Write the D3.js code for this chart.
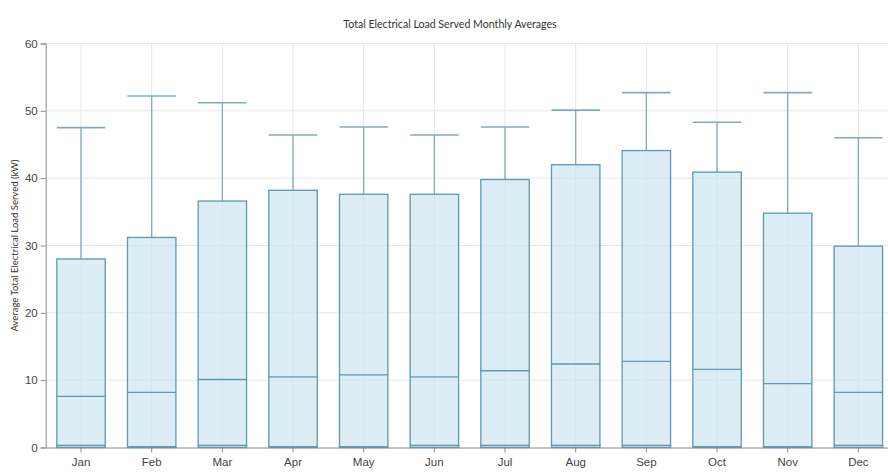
<!DOCTYPE html>
<html>
<head>
<meta charset="utf-8">
<script src="https://cdn.jsdelivr.net/npm/d3@7"></script>
<style>
  html, body { margin: 0; padding: 0; background: #fff; }
  svg { display: block; font-family: Lato, "Open Sans", "Noto Sans", sans-serif; }
</style>
</head>
<body>
<svg id="chart" width="888" height="473"></svg>
<script>
// Monthly distribution of total electrical load served (kW)
const months   = ["Jan","Feb","Mar","Apr","May","Jun","Jul","Aug","Sep","Oct","Nov","Dec"];
const minVals  = [0, 0, 0, 0, 0, 0, 0, 0, 0, 0, 0, 0];
const q1Vals   = [0.3, 0.1, 0.3, 0.1, 0.1, 0.3, 0.3, 0.3, 0.3, 0.1, 0.1, 0.3];
const medVals  = [7.6, 8.2, 10.1, 10.5, 10.8, 10.5, 11.4, 12.4, 12.8, 11.6, 9.5, 8.2];
const q3Vals   = [28.0, 31.2, 36.6, 38.2, 37.6, 37.6, 39.8, 42.0, 44.1, 40.9, 34.8, 29.9];
const maxVals  = [47.5, 52.2, 51.2, 46.4, 47.6, 46.4, 47.6, 50.1, 52.7, 48.3, 52.7, 46.0];
const yTicks   = [0, 10, 20, 30, 40, 50, 60];

const title = "Total Electrical Load Served Monthly Averages";
const yLabel = "Average Total Electrical Load Served (kW)";

const rows = months.map((m, i) => ({
  month: m, min: minVals[i], q1: q1Vals[i], med: medVals[i], q3: q3Vals[i], max: maxVals[i]
}));

const svg = d3.select("#chart");
const margin = { left: 45.7, top: 43.5, bottom: 25.5 };
const plotRight = 893.7;
const H = 473;

const x = d3.scaleBand().domain(months).range([margin.left, plotRight]).paddingInner(0).paddingOuter(0);
const y = d3.scaleLinear().domain([0, 60]).range([H - margin.bottom, margin.top]);

const boxW = x.bandwidth() * 0.685;
const stroke = "#5d99b1";
const whisker = "#7fabbb";
const grid = "#e6e6e6";

// grid lines
svg.append("g").selectAll("line.h").data(yTicks.filter(t => t > 0)).join("line")
  .attr("x1", margin.left).attr("x2", plotRight)
  .attr("y1", d => y(d)).attr("y2", d => y(d))
  .attr("stroke", grid).attr("stroke-width", 1);
svg.append("g").selectAll("line.v").data(months).join("line")
  .attr("x1", d => x(d) + x.bandwidth() / 2).attr("x2", d => x(d) + x.bandwidth() / 2)
  .attr("y1", y(60)).attr("y2", y(0))
  .attr("stroke", grid).attr("stroke-width", 1);

// boxes and whiskers
const g = svg.append("g").selectAll("g.box").data(rows).join("g");
const cx = d => x(d.month) + x.bandwidth() / 2;

g.append("line")
  .attr("x1", cx).attr("x2", cx)
  .attr("y1", d => y(d.max)).attr("y2", d => y(d.q3))
  .attr("stroke", whisker).attr("stroke-width", 1.3);
g.append("line")
  .attr("x1", d => cx(d) - boxW / 2).attr("x2", d => cx(d) + boxW / 2)
  .attr("y1", d => y(d.max)).attr("y2", d => y(d.max))
  .attr("stroke", whisker).attr("stroke-width", 1.6);
g.append("rect")
  .attr("x", d => cx(d) - boxW / 2).attr("width", boxW)
  .attr("y", d => y(d.q3)).attr("height", d => y(d.q1) - y(d.q3))
  .attr("fill", "#cfe5f2").attr("fill-opacity", 0.7)
  .attr("stroke", stroke).attr("stroke-width", 1.3);
// lower band from min to q1
g.append("rect")
  .attr("x", d => cx(d) - boxW / 2).attr("width", boxW)
  .attr("y", d => y(d.q1)).attr("height", d => y(d.min) - y(d.q1))
  .attr("fill", "#cfe5f2").attr("fill-opacity", 0.7)
  .attr("stroke", stroke).attr("stroke-width", 1.3);
g.append("line")
  .attr("x1", d => cx(d) - boxW / 2).attr("x2", d => cx(d) + boxW / 2)
  .attr("y1", d => y(d.med)).attr("y2", d => y(d.med))
  .attr("stroke", stroke).attr("stroke-width", 1.3);

// axes
const yAxis = d3.axisLeft(y).tickValues(yTicks).tickSize(5).tickPadding(3);
const yg = svg.append("g").attr("transform", `translate(${margin.left},0)`).call(yAxis);
yg.select(".domain").attr("stroke", "#8a8a8a");
yg.selectAll(".tick line").attr("stroke", "#8a8a8a");
yg.selectAll(".tick text").attr("fill", "#444").style("font-size", "11.5px");

const xAxis = d3.axisBottom(x).tickSize(5).tickPadding(5).tickSizeOuter(0);
const xg = svg.append("g").attr("transform", `translate(0,${y(0)})`).call(xAxis);
xg.select(".domain").attr("stroke", "#8a8a8a");
xg.selectAll(".tick line").attr("stroke", "#8a8a8a");
xg.selectAll(".tick text").attr("fill", "#444").style("font-size", "11.5px");

// titles
svg.append("text")
  .attr("x", 450).attr("y", 28)
  .attr("text-anchor", "middle")
  .attr("fill", "#333").style("font-size", "10.6px")
  .text(title);

svg.append("text")
  .attr("transform", `translate(18,${(y(0) + y(60)) / 2}) rotate(-90)`)
  .attr("text-anchor", "middle")
  .attr("fill", "#333").style("font-size", "9.5px")
  .text(yLabel);
</script>
</body>
</html>
